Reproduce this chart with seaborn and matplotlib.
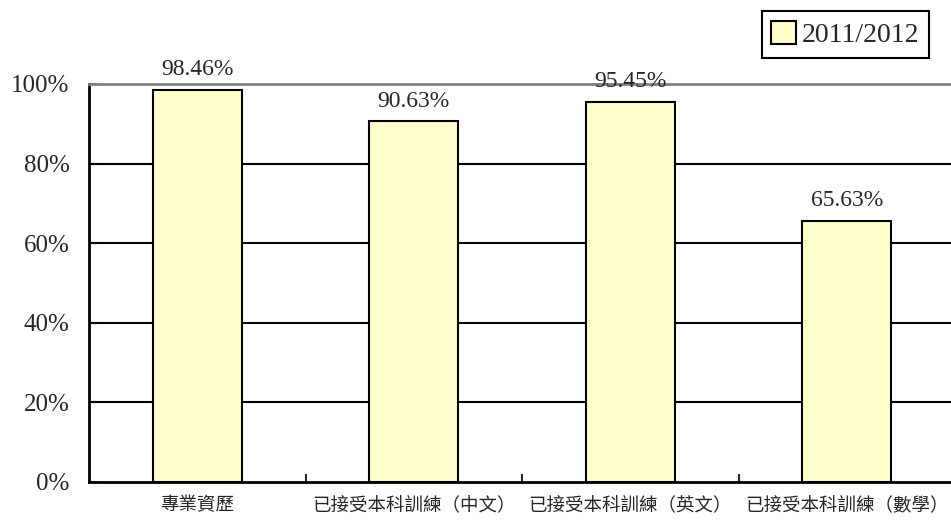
import matplotlib
matplotlib.use("Agg")
import matplotlib.pyplot as plt
import seaborn as sns
import pandas as pd
from matplotlib.ticker import PercentFormatter, FixedLocator

# 資料
categories = ["專業資歷", "已接受本科訓練（中文）", "已接受本科訓練（英文）", "已接受本科訓練（數學）"]
values = [0.9846, 0.9063, 0.9545, 0.6563]
series_name = "2011/2012"

df = pd.DataFrame({"cat": categories, "val": values})

sns.set_style("white")
plt.rcParams['font.family'] = ['Liberation Serif', 'Noto Sans CJK TC', 'DejaVu Sans']

fig = plt.figure(figsize=(9.51, 5.21), dpi=100)
ax = fig.add_axes([89 / 951, 39 / 521, 866 / 951, 398 / 521])

sns.barplot(data=df, x="cat", y="val", color="#FFFFCC", edgecolor="black",
            linewidth=1.5, width=0.41, saturation=1, label=series_name, ax=ax, zorder=3)
if ax.get_legend() is not None:
    ax.get_legend().remove()

ax.set_ylim(0, 1)
ax.set_xlim(-0.5, len(categories) - 0.5)
ax.yaxis.set_major_locator(FixedLocator([0, 0.2, 0.4, 0.6, 0.8, 1.0]))
ax.yaxis.set_major_formatter(PercentFormatter(1.0, decimals=0))
for y in [0.2, 0.4, 0.6, 0.8]:
    ax.axhline(y, color="black", lw=1.5, zorder=1)

ax.set_xlabel("")
ax.set_ylabel("")
ax.tick_params(axis="y", left=True, direction="in", length=6, width=1.5, labelsize=18, pad=14)
ax.tick_params(axis="x", which="major", bottom=True, length=0, labelsize=13.3, pad=10)
ax.set_xticks([0.5, 1.5, 2.5], minor=True)
ax.tick_params(axis="x", which="minor", bottom=True, direction="in", length=6, width=1.5)
for lab in ax.get_xticklabels():
    lab.set_family(['Noto Sans CJK TC', 'DejaVu Sans'])

for s in ["left", "bottom"]:
    ax.spines[s].set_color("black")
    ax.spines[s].set_linewidth(2)
ax.spines["top"].set_color("#808080")
ax.spines["top"].set_linewidth(2)
ax.spines["right"].set_visible(False)

ax.bar_label(ax.containers[0], labels=[f"{v*100:.2f}%" for v in values],
             padding=7, fontsize=17)

fig.legend(handles=[ax.containers[0]], labels=[series_name],
           loc="upper right", bbox_to_anchor=(929 / 951, 1 - 11 / 521),
           fancybox=False, edgecolor="black", framealpha=1, fontsize=20,
           handlelength=0.9, handleheight=0.9, handletextpad=0.2, borderpad=0.35,
           borderaxespad=0)
fig.legends[0].get_frame().set_linewidth(1.5)

fig.savefig("out.png", dpi=100)
